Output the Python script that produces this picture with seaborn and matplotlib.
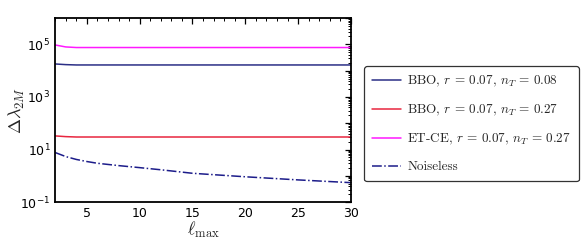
import numpy as np
import matplotlib
matplotlib.use("Agg")
import matplotlib.pyplot as plt
import matplotlib.ticker as mticker
import seaborn as sns
import pandas as pd

# -----------------------------
# Data
# -----------------------------
ell = [2, 3, 4, 5, 6, 8, 10, 12, 15, 20, 25, 30]

bbo_008 = [1.8e4, 1.7e4, 1.65e4, 1.65e4, 1.65e4, 1.65e4, 1.65e4, 1.65e4, 1.65e4, 1.65e4, 1.65e4, 1.65e4]
bbo_027 = [33, 31, 30, 30, 30, 30, 30, 30, 30, 30, 30, 30]
etce_027 = [9.5e4, 8.0e4, 7.6e4, 7.6e4, 7.6e4, 7.6e4, 7.6e4, 7.6e4, 7.6e4, 7.6e4, 7.6e4, 7.6e4]
noiseless = [7.7, 5.4, 4.2, 3.5, 3.0, 2.45, 2.05, 1.7, 1.25, 0.92, 0.70, 0.55]

labels = [r"BBO, $r\,=\,0.07$, $n_T\,=\,0.08$",
          r"BBO, $r\,=\,0.07$, $n_T\,=\,0.27$",
          r"ET-CE, $r\,=\,0.07$, $n_T\,=\,0.27$",
          "Noiseless"]
colors = ["#2b2f86", "#e8263f", "#ff19ff", "#1c1c8a"]

sns.set_style("white")
plt.rcParams['font.family'] = ['DejaVu Sans']

fig = plt.figure(figsize=(5.81, 2.48), dpi=100)
ax = fig.add_axes([0.095, 0.185, 0.509, 0.742])

series = [bbo_008, bbo_027, etce_027, noiseless]
for vals, lab, col in zip(series, labels, colors):
    df = pd.DataFrame({'ell': ell, 'val': vals})
    ls = '-.' if lab == "Noiseless" else '-'
    sns.lineplot(data=df, x='ell', y='val', ax=ax, color=col, label=lab,
                 linestyle=ls, linewidth=1.1)

ax.set_yscale('log')
ax.set_xlim(2, 30)
ax.set_ylim(1e-1, 1e6)

ax.xaxis.set_major_locator(mticker.MultipleLocator(5))
ax.xaxis.set_minor_locator(mticker.MultipleLocator(1))
ax.yaxis.set_major_locator(mticker.LogLocator(base=10, numticks=20))
ax.yaxis.set_minor_locator(mticker.LogLocator(base=10, subs=np.arange(2, 10), numticks=20))


def fmt(v, pos):
    e = int(round(np.log10(v)))
    if e % 2 == 1 or e == -1:
        return r"$10^{%d}$" % e
    return ""


ax.yaxis.set_major_formatter(mticker.FuncFormatter(fmt))
ax.yaxis.set_minor_formatter(mticker.NullFormatter())

ax.tick_params(which='both', direction='in', top=True, right=True, labelsize=9, colors='black')
ax.tick_params(which='major', length=4, width=0.9)
ax.tick_params(which='minor', length=2, width=0.7)
for s in ax.spines.values():
    s.set_color('black')
    s.set_linewidth(1.3)

ax.set_xlabel(r"$\ell_{\rm max}$", fontsize=13, math_fontfamily='cm')
ax.set_ylabel(r"$\Delta\lambda_{2M}$", fontsize=13, math_fontfamily='cm')
ax.xaxis.set_label_coords(0.5, -0.095)
ax.yaxis.set_label_coords(-0.095, 0.5)

ax.get_legend().remove()
handles, labs = ax.get_legend_handles_labels()
leg = fig.legend(handles, labs, loc='upper left', bbox_to_anchor=(0.627, 0.734),
                 borderaxespad=0, frameon=True, fancybox=True, edgecolor='black',
                 fontsize=9.5, handlelength=2.2, labelspacing=1.05, borderpad=0.6,
                 handletextpad=0.45)
leg.get_frame().set_linewidth(0.9)
for t in leg.get_texts():
    t.set_fontfamily('cmr10')
    t.set_math_fontfamily('cm')

fig.savefig("out.png", dpi=100)
